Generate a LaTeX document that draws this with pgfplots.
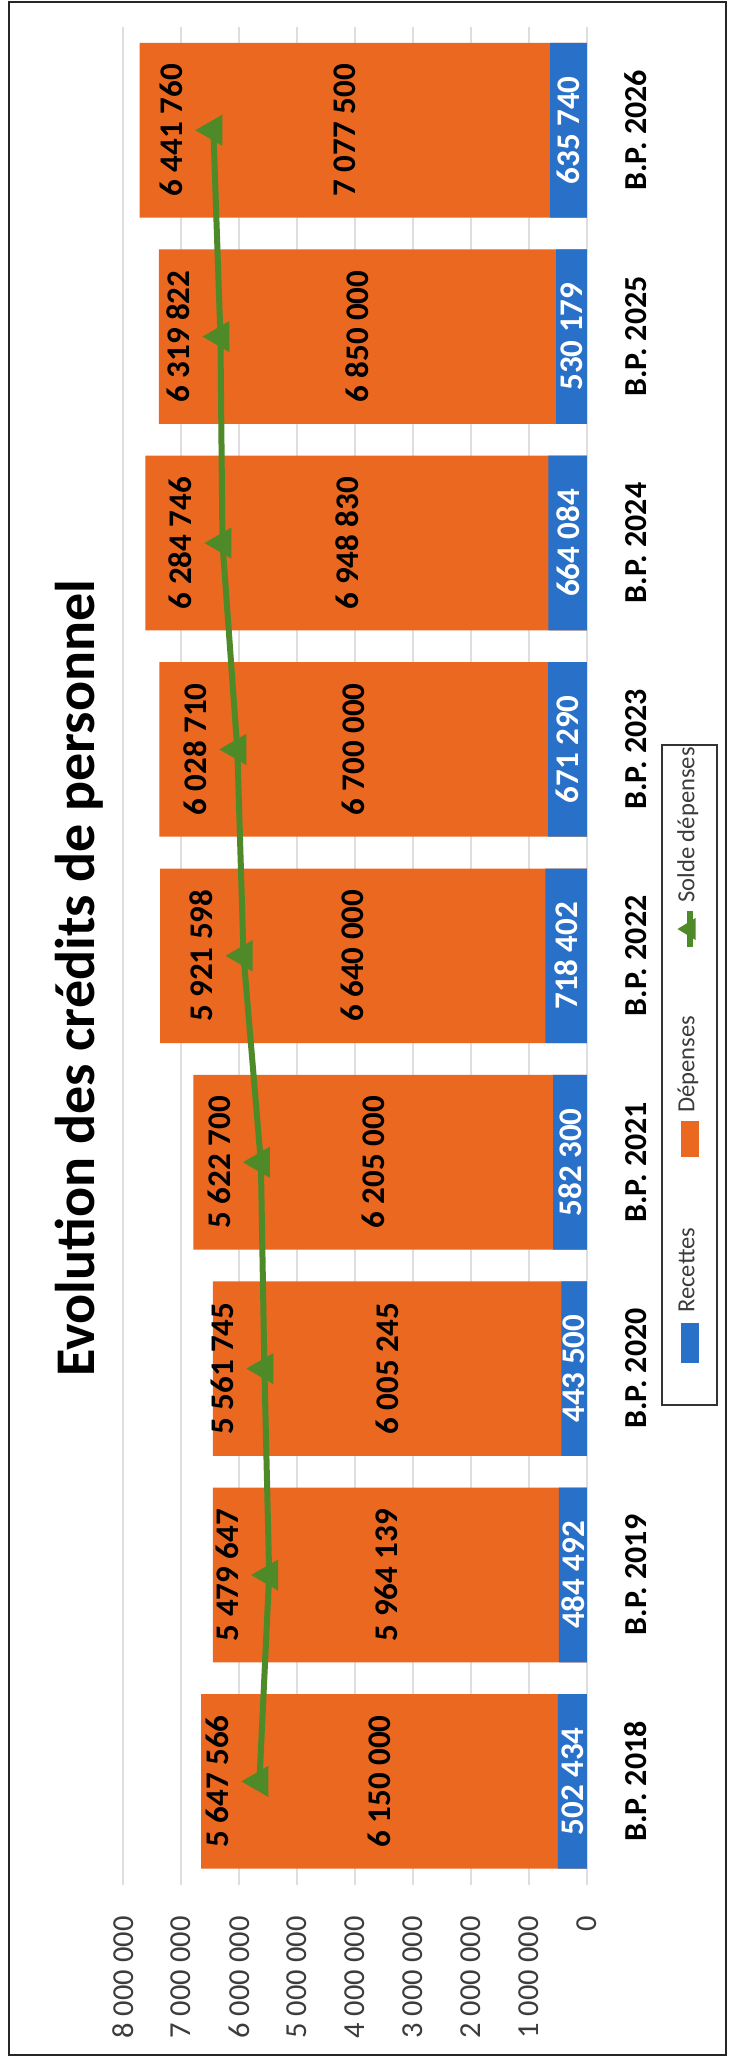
\documentclass[border=0pt]{standalone}
\usepackage{pgfplots}
\pgfplotsset{compat=1.18}
\usepackage{pgfplotstable}
\usepackage{fontspec}
\setmainfont{Carlito}

\definecolor{cblue}{RGB}{40,112,200}
\definecolor{corange}{RGB}{235,104,32}
\definecolor{cgreen}{RGB}{78,138,40}
\definecolor{cgrid}{RGB}{222,222,222}
\definecolor{ctick}{RGB}{60,60,60}

\pgfplotstableread{
i r d s
0 502434 6150000 5647566
1 484492 5964139 5479647
2 443500 6005245 5561745
3 582300 6205000 5622700
4 718402 6640000 5921598
5 671290 6700000 6028710
6 664084 6948830 6284746
7 530179 6850000 6319822
8 635740 7077500 6441760
}\data

\newcommand{\lab}{\pgfmathprintnumber[fixed,precision=0,1000 sep={\ }]{\pgfplotspointmeta}}

\begin{document}
\begin{tikzpicture}
\useasboundingbox (0,0) rectangle (364.5pt,-1031.5pt);
\fill[white] (0,0) rectangle (364.5pt,-1031.5pt);
\draw[line width=0.8pt, black!85] (4.5pt,-0.85pt) rectangle (363pt,-1027.5pt);
\begin{axis}[
  at={(61.5pt,-942.3pt)}, anchor=south west,
  scale only axis, width=232pt, height=928.8pt,
  x dir=reverse,
  xmin=0, xmax=8000000, ymin=-0.5, ymax=8.5,
  axis line style={draw=none},
  xtick style={draw=none}, ytick style={draw=none},
  xtick={0,1000000,2000000,3000000,4000000,5000000,6000000,7000000,8000000},
  xticklabels={0,1~000~000,2~000~000,3~000~000,4~000~000,5~000~000,6~000~000,7~000~000,8~000~000},
  xmajorgrids, grid style={cgrid, line width=0.6pt},
  ytick={0,1,2,3,4,5,6,7,8},
  yticklabels={B.P. 2018,B.P. 2019,B.P. 2020,B.P. 2021,B.P. 2022,B.P. 2023,B.P. 2024,B.P. 2025,B.P. 2026},
  yticklabel pos=right,
  yticklabel style={xshift=24.5pt, rotate=90, anchor=center, inner sep=0pt, font=\fontsize{16}{16}\selectfont\bfseries, text=black},
  xticklabel style={yshift=-15.7pt, rotate=90, anchor=east, inner sep=0pt, font=\fontsize{15.25}{15}\selectfont, text=ctick},
  title={Evolution des crédits de personnel},
  title style={at={(axis description cs:-0.095,0.4816)}, rotate=90, anchor=center, inner sep=0pt, font=\fontsize{28}{28}\selectfont\bfseries},
  /pgf/number format/assume math mode=true,
]
\addplot[xbar, bar shift=0pt, bar width=87.3pt, fill=corange, draw=none]
  table[x expr=\thisrow{r}+\thisrow{d}, y=i] {\data};
\addplot[xbar, bar shift=0pt, bar width=87.3pt, fill=cblue, draw=none]
  table[x=r, y=i] {\data};
\addplot[sharp plot, cgreen, line width=3pt, mark=triangle*, mark size=6pt,
  mark options={rotate=90, fill=cgreen, solid},
  nodes near coords={\lab}, point meta=explicit symbolic,
  every node near coord/.append style={xshift=-21pt, rotate=90, anchor=center, inner sep=0pt, text=black, font=\fontsize{16.5}{16}\selectfont\bfseries}]
  table[x=s, y=i, meta=s] {\data};
\addplot[draw=none, sharp plot,
  nodes near coords={\lab}, point meta=explicit symbolic,
  every node near coord/.append style={rotate=90, anchor=center, inner sep=0pt, text=black, font=\fontsize{16.5}{16}\selectfont\bfseries}]
  table[x expr=\thisrow{r}+0.5*\thisrow{d}, y=i, meta=d] {\data};
\addplot[draw=none, sharp plot,
  nodes near coords={\lab}, point meta=explicit symbolic,
  every node near coord/.append style={rotate=90, anchor=center, inner sep=0pt, text=white, font=\fontsize{16.5}{16}\selectfont\bfseries}]
  table[x expr=0.5*\thisrow{r}, y=i, meta=r] {\data};
\end{axis}
% legend (rotated like the whole chart)
\begin{scope}[shift={(344.75pt,-702.5pt)}, rotate=90]
  \draw[black!80, line width=0.75pt, fill=white] (0pt,-13.75pt) rectangle (330pt,13.75pt);
  \fill[cblue] (21pt,-4.5pt) rectangle (41pt,4.5pt);
  \node[transform shape, anchor=mid west, inner sep=0pt, font=\fontsize{12.3}{12}\selectfont, text=ctick] at (46pt,0pt) {Recettes};
  \fill[corange] (124pt,-4.5pt) rectangle (142pt,4.5pt);
  \node[transform shape, anchor=mid west, inner sep=0pt, font=\fontsize{12.3}{12}\selectfont, text=ctick] at (146pt,0pt) {Dépenses};
  \draw[cgreen, line width=3pt] (229pt,0pt) -- (247pt,0pt);
  \fill[cgreen] (232.5pt,-3pt) -- (243.5pt,-3pt) -- (238pt,6pt) -- cycle;
  \node[transform shape, anchor=mid west, inner sep=0pt, font=\fontsize{12.3}{12}\selectfont, text=ctick] at (251pt,0pt) {Solde dépenses};
\end{scope}
\end{tikzpicture}
\end{document}
